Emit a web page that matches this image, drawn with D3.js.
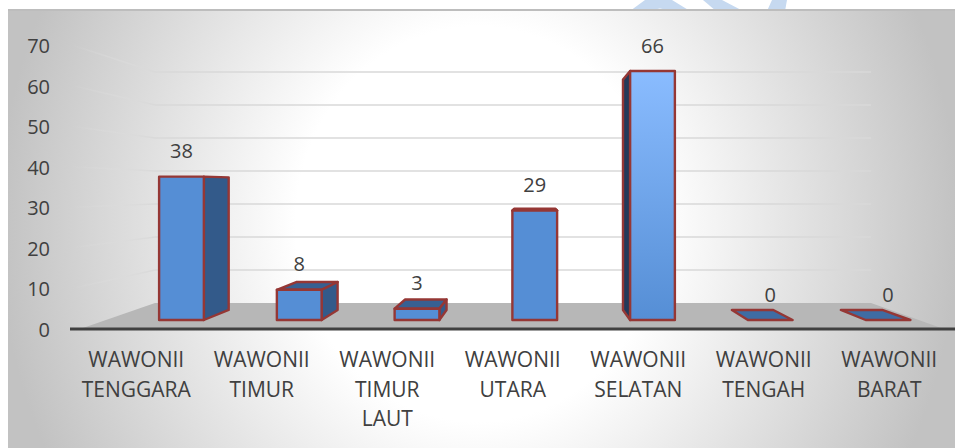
<!DOCTYPE html>
<html>
<head>
<meta charset="utf-8">
<script src="https://cdn.jsdelivr.net/npm/d3@7"></script>
<style>
    html, body { margin: 0; padding: 0; background: #fff; overflow: hidden; }
    text { font-family: "Open Sans", sans-serif; fill: #404040; }
</style>
</head>
<body>
<div id="chart"></div>
<script>
// values
const categories = [
    ["WAWONII", "TENGGARA"],
    ["WAWONII", "TIMUR"],
    ["WAWONII", "TIMUR", "LAUT"],
    ["WAWONII", "UTARA"],
    ["WAWONII", "SELATAN"],
    ["WAWONII", "TENGAH"],
    ["WAWONII", "BARAT"]
];
const values = [38, 8, 3, 29, 66, 0, 0];
const yTicks = [0, 10, 20, 30, 40, 50, 60, 70];

const width = 955;
const height = 448;

const svg = d3.select("#chart")
    .append("svg")
    .attr("width", width)
    .attr("height", height)
    .style("display", "block");

const defs = svg.append("defs");

const bg = defs.append("radialGradient")
    .attr("id", "bg")
    .attr("gradientUnits", "userSpaceOnUse")
    .attr("cx", 0).attr("cy", 0).attr("r", 1)
    .attr("gradientTransform", "translate(478,224) scale(480,520)");
bg.append("stop").attr("offset", 0.38).attr("stop-color", "#ffffff");
bg.append("stop").attr("offset", 1).attr("stop-color", "#c2c2c2");

// the tallest bar is lighter at the top
const tall = defs.append("linearGradient")
    .attr("id", "tall")
    .attr("x1", 0).attr("y1", 0).attr("x2", 0).attr("y2", 1);
tall.append("stop").attr("offset", 0).attr("stop-color", "#8abcff");
tall.append("stop").attr("offset", 1).attr("stop-color", "#558ed5");

// side wall gridlines fade out towards the front
const wallFade = defs.append("linearGradient")
    .attr("id", "wallFade")
    .attr("gradientUnits", "userSpaceOnUse")
    .attr("x1", 72).attr("y1", 0).attr("x2", 155).attr("y2", 0);
wallFade.append("stop").attr("offset", 0).attr("stop-color", "#dedede").attr("stop-opacity", 0);
wallFade.append("stop").attr("offset", 1).attr("stop-color", "#d9d9d9").attr("stop-opacity", 1);

// watermark that pokes in above the chart
const mark = svg.append("g").attr("fill", "#c6d9f0");
mark.append("path").attr("d", "M630,11L645,0H672L690,11H668Q660,6 652,11Z");
mark.append("path").attr("d", "M703,0H722L743,11H716Z");
mark.append("path").attr("d", "M767,11L772,0H787L785,11Z");

svg.append("rect")
    .attr("x", 8).attr("y", 10)
    .attr("width", width - 8).attr("height", height - 10)
    .attr("fill", "url(#bg)");
svg.append("line")
    .attr("x1", 8).attr("x2", width)
    .attr("y1", 10).attr("y2", 10)
    .attr("stroke", "#bdbdbd").attr("stroke-width", 2);

// front edge of the wall, back wall and the plane the bars stand on
const yFront = d3.scaleLinear().domain([0, 70]).range([329, 45]);
const yBack = d3.scaleLinear().domain([0, 70]).range([303, 72]);
const yBar = d3.scaleLinear().domain([0, 66]).range([320, 71]);

const xLabel = d3.scaleBand()
    .domain(d3.range(categories.length))
    .range([73.5, 952]);
const xBar = d3.scaleBand()
    .domain(d3.range(categories.length))
    .range([122.6, 946.9])
    .paddingInner(0.62)
    .paddingOuter(0.31);

// pushes a front corner back towards the vanishing point
const vx = 535, vy = 186, depth = 0.075;
const back = ([x, y]) => [x + (vx - x) * depth, y + (vy - y) * depth];

const wallLeft = 155, wallRight = 871, frontLeft = 72;

// floor
svg.append("polygon")
    .attr("points", [[80, yFront(0)], [wallLeft, yBack(0)], [wallRight, yBack(0)], [944, yFront(0)]].join(" "))
    .attr("fill", "#b7b7b7");

// gridlines
const grid = svg.append("g").attr("fill", "none").attr("stroke-width", 1.5);
yTicks.filter(d => d > 0).forEach((d) => {
    grid.append("line")
        .attr("x1", frontLeft).attr("y1", yFront(d))
        .attr("x2", wallLeft).attr("y2", yBack(d))
        .attr("stroke", "url(#wallFade)");
    grid.append("line")
        .attr("x1", wallLeft).attr("y1", yBack(d))
        .attr("x2", wallRight).attr("y2", yBack(d))
        .attr("stroke", "#d9d9d9");
});

// bars
values.forEach((v, i) => {
    const x0 = xBar(i);
    const x1 = x0 + xBar.bandwidth();
    const top = yBar(v);
    const base = yBar(0);
    const g = svg.append("g")
        .attr("stroke", "#953735")
        .attr("stroke-width", 2.4)
        .attr("stroke-linejoin", "round");

    // top face, only seen below the vanishing point
    if (top > vy) {
        g.append("polygon")
            .attr("points", [[x0, top], back([x0, top]), back([x1, top]), [x1, top]].join(" "))
            .attr("fill", v === 0 ? "#3f6ca3" : "#376092");
    }
    if (v === 29) {
        g.append("polygon")
            .attr("points", [[x0, top], [x0 + 2, top - 1.5], [x1 - 2, top - 1.5], [x1, top]].join(" "))
            .attr("fill", "#376092");
    }
    // side face, whichever side faces us
    if (v > 0 && x1 < vx) {
        g.append("polygon")
            .attr("points", [[x1, top], back([x1, top]), back([x1, base]), [x1, base]].join(" "))
            .attr("fill", "#335a8a");
    }
    if (v > 0 && x0 > vx) {
        g.append("polygon")
            .attr("points", [[x0, top], back([x0, top]), back([x0, base]), [x0, base]].join(" "))
            .attr("fill", "#243a5a");
    }
    if (v > 0) {
        g.append("rect")
            .attr("x", x0).attr("y", top)
            .attr("width", xBar.bandwidth())
            .attr("height", base - top)
            .attr("fill", v === d3.max(values) ? "url(#tall)" : "#558ed5");
    }
});

// category axis line
svg.append("line")
    .attr("x1", 70).attr("x2", width)
    .attr("y1", yFront(0)).attr("y2", yFront(0))
    .attr("stroke", "#404040").attr("stroke-width", 3);

// value labels
svg.append("g").selectAll("text")
    .data(values)
    .join("text")
    .attr("x", (d, i) => xBar(i) + xBar.bandwidth() / 2)
    .attr("y", d => yBar(d) - 18.5)
    .attr("text-anchor", "middle")
    .style("font-size", "20px")
    .text(d => d);

// y tick labels
svg.append("g").selectAll("text")
    .data(yTicks)
    .join("text")
    .attr("x", 50)
    .attr("y", d => yFront(d) + 8)
    .attr("text-anchor", "end")
    .style("font-size", "20px")
    .text(d => d);

// category labels
categories.forEach((lines, i) => {
    const t = svg.append("text")
        .attr("text-anchor", "middle")
        .style("font-size", "21px");
    lines.forEach((line, j) => {
        t.append("tspan")
            .attr("x", xLabel(i) + xLabel.bandwidth() / 2)
            .attr("y", 367 + j * 29.5)
            .text(line);
    });
});
</script>
</body>
</html>
